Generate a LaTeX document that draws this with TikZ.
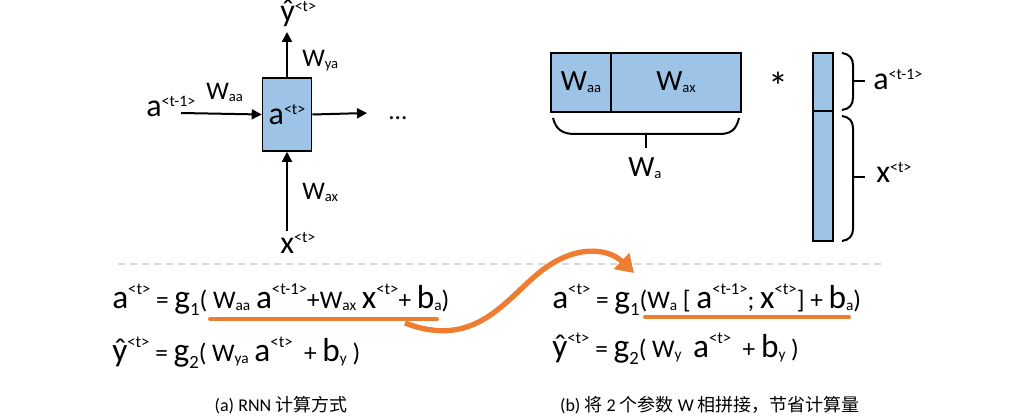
\documentclass[tikz,border=0pt]{standalone}
\usepackage{fontspec}
\setmainfont{Carlito}
\newfontfamily\cjk{Noto Sans CJK SC}
\usetikzlibrary{arrows.meta}

\definecolor{cellblue}{RGB}{157,195,230}
\definecolor{hlorange}{RGB}{237,125,49}
\definecolor{sepgray}{RGB}{217,217,217}

% sizes, reset inside the node styles
\def\lcsz{22}\def\upsz{10}\def\uprs{12pt}\def\sbsz{10}\def\gsz{14}
\newcommand{\lcb}[1]{{\fontsize{\lcsz}{\lcsz}\selectfont #1}}
\newcommand{\sps}[1]{\raisebox{\uprs}{\fontsize{\upsz}{\upsz}\selectfont #1}}
\newcommand{\sbs}[1]{\raisebox{-1.5pt}{\fontsize{\sbsz}{\sbsz}\selectfont #1}}
\newcommand{\sbg}[1]{\raisebox{-5.5pt}{\fontsize{\gsz}{\gsz}\selectfont #1}}

\begin{document}
\begin{tikzpicture}[x=0.75pt, y=-0.75pt,
  eqn/.style={anchor=base west, inner sep=0pt,
    font=\fontsize{19}{22}\selectfont\def\lcsz{25}\def\upsz{12.5}\def\uprs{10.5pt}\def\sbsz{11.5}},
  lbl/.style={anchor=base west, inner sep=0pt,
    font=\fontsize{19}{22}\selectfont\def\lcsz{24}\def\upsz{12}\def\uprs{8pt}\def\sbsz{11}},
  rlbl/.style={lbl, font=\fontsize{22}{24}\selectfont\def\lcsz{24}\def\upsz{12}\def\uprs{8pt}\def\sbsz{11}},
  flow/.style={line width=1.5pt, -{Triangle[length=7.5pt,width=7.5pt]}},
  mat/.style={draw, line width=1.2pt, fill=cellblue, inner sep=0pt,
    font=\fontsize{22}{24}\selectfont\def\lcsz{24}\def\upsz{12}\def\uprs{8pt}\def\sbsz{11}},
  brc/.style={line width=1.5pt},
  hl/.style={hlorange, line width=3pt, line cap=round},
  captxt/.style={inner sep=0pt, font=\fontsize{13.5}{16}\selectfont}]
\useasboundingbox (0,0) rectangle (1020,420);

% (a) rnn cell
\node[mat, minimum width=36.75pt, minimum height=54.75pt] (cell) at (287,114.5) {\lcb{a}\sps{<t>}};
\coordinate (ain) at (181,113);
\coordinate (aout) at (367,113);
\coordinate (yout) at (287,32);
\coordinate (xin) at (287,231);
\draw[flow] (ain) -- (cell.west);
\draw[flow] (cell.east) -- (aout);
\draw[flow] (cell.north) -- (yout);
\draw[flow] (xin) -- (cell.south);
\node[lbl] (aprev) at (146,117) {\lcb{a}\sps{<t-1>}};
\node[lbl] (waa) at (206,100) {W\sbs{aa}};
\node[lbl] (yhat) at (280,22) {\lcb{ŷ}\sps{<t>}};
\node[lbl] (wya) at (302,67) {W\sbs{ya}};
\node[lbl] (dots) at (388,120) {...};
\node[lbl] (wax) at (302,200) {W\sbs{ax}};
\node[lbl] (xt) at (280,253) {\lcb{x}\sps{<t>}};

% (b) stacked weights times stacked input
\node[mat, minimum width=45pt, minimum height=44.25pt] (maa) at (581,82.5) {W\sbs{aa}};
\node[mat, minimum width=97.5pt, minimum height=44.25pt] (max) at (676,82.5) {W\sbs{ax}};
\node[mat, minimum width=15pt, minimum height=43.5pt] (va) at (823,82) {};
\node[mat, minimum width=15pt, minimum height=97.5pt] (vx) at (823,176) {};
\draw[brc] (553,118) .. controls (556,130) and (563,134) .. (575,134) -- (719,134)
  .. controls (731,134) and (736,130) .. (739,118);
\draw[brc] (646,134) -- (646,148);
\draw[brc] (842,53) .. controls (849,54) and (853,58) .. (853,65) -- (853,98)
  .. controls (853,105) and (849,109) .. (842,110);
\draw[brc] (853,81) -- (865,81);
\draw[brc] (842,116) .. controls (849,117) and (853,121) .. (853,128) -- (853,229)
  .. controls (853,236) and (849,240) .. (842,241);
\draw[brc] (853,177) -- (865,177);
\node[rlbl] (wa) at (628,177) {W\sbs{a}};
\node[rlbl, anchor=base, font=\fontsize{30}{30}\selectfont] (times) at (778,101) {*};
\node[rlbl] (aprev2) at (873,90) {\lcb{a}\sps{<t-1>}};
\node[rlbl] (xt2) at (876,183) {\lcb{x}\sps{<t>}};

\draw[sepgray, line width=1.5pt, dash pattern=on 5.25pt off 3.75pt] (118,264) -- (884,264);

% equations
\node[eqn] (eqa) at (112,308) {\lcb{a}\sps{<t>} = \lcb{g}\sbg{1}( W\sbs{aa} \lcb{a}\sps{<t-1>}+W\sbs{ax} \lcb{x}\sps{<t>}+ \lcb{b}\sbs{a})};
\node[eqn] (eqy) at (112,361) {\lcb{ŷ}\sps{<t>} = \lcb{g}\sbg{2}( W\sbs{ya} \lcb{a}\sps{<t>}~ + \lcb{b}\sbs{y} )};
\node[eqn] (eqb) at (552,308) {\lcb{a}\sps{<t>} = \lcb{g}\sbg{1}(W\sbs{a} [ \lcb{a}\sps{<t-1>}; \lcb{x}\sps{<t>}] + \lcb{b}\sbs{a})};
\node[eqn] (eqz) at (552,357) {\lcb{ŷ}\sps{<t>} = \lcb{g}\sbg{2}( W\sbs{y}~ \lcb{a}\sps{<t>}~ + \lcb{b}\sbs{y} )};

\coordinate (ula) at (210,319);
\coordinate (ulb) at (437,319);
\coordinate (ulc) at (645,317);
\coordinate (uld) at (849,317);
\draw[hl] (ula) -- (ulb);
\draw[hl] (ulc) -- (uld);
\coordinate (tail) at (405,323);
\coordinate (head) at (634,273);
\draw[hlorange, line width=4pt, -{Triangle[length=13pt,width=16pt]}]
  (tail) .. controls (475,350) and (505,300) .. (540,272)
  .. controls (575,244) and (608,248) .. (head);

\node[captxt] (capa) at (281,405) {(a) RNN {\cjk 计算方式}};
\node[captxt] (capb) at (710,405) {(b) {\cjk 将} 2 {\cjk 个参数} W {\cjk 相拼接，节省计算量}};
\end{tikzpicture}
\end{document}
